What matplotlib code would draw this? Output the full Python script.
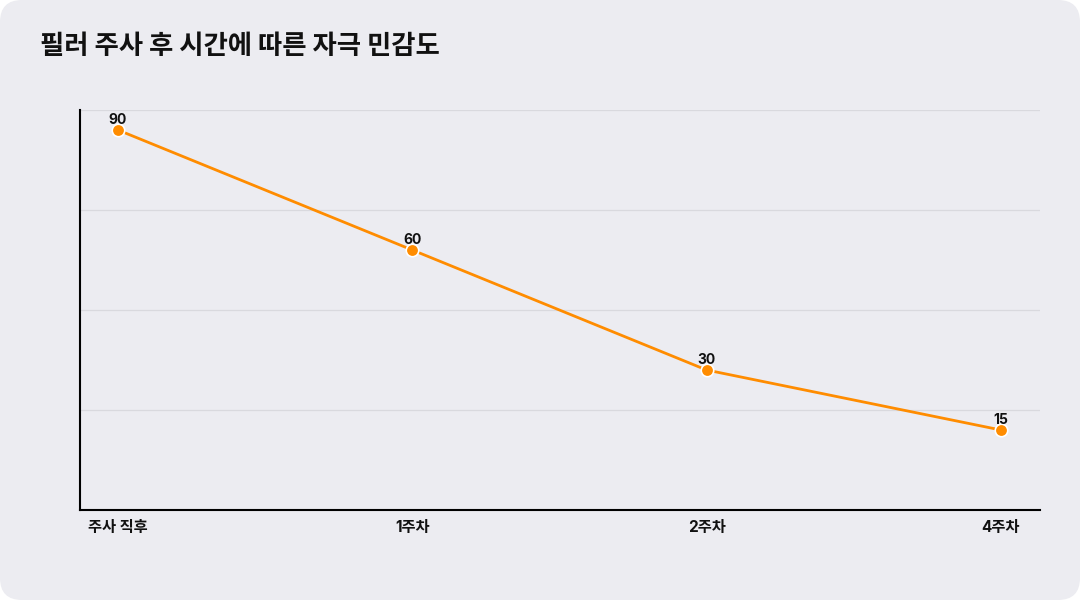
import matplotlib
matplotlib.use("Agg")
import matplotlib.pyplot as plt
from matplotlib.patches import FancyBboxPatch

plt.rcParams['font.family'] = ['Noto Sans CJK KR', 'DejaVu Sans']
mixed = ['Inter', 'Noto Sans CJK KR', 'DejaVu Sans']

categories = ["주사 직후", "1주차", "2주차", "4주차"]
values = [90, 60, 30, 15]
title = "필러 주사 후 시간에 따른 자극 민감도"

W, H, DPI = 1080, 600, 100
fig = plt.figure(figsize=(W / DPI, H / DPI), dpi=DPI)
fig.patch.set_facecolor("white")
bg = FancyBboxPatch((0, 0), W, H, boxstyle="round,pad=0,rounding_size=22",
                    transform=None, facecolor="#ececf1", edgecolor="none", zorder=-10)
fig.patches.append(bg)

ax = fig.add_axes([80 / W, (H - 510) / H, 960 / W, 400 / H])
ax.set_facecolor("none")

x = list(range(len(categories)))
ax.plot(x, values, color="#ff8c00", linewidth=2.0, zorder=3,
        marker="o", markersize=9, markerfacecolor="#ff8c00",
        markeredgecolor="white", markeredgewidth=1.2)
for xi, v in zip(x, values):
    ax.annotate(str(v), (xi, v), xytext=(0, 2.5), textcoords="offset points",
                ha="center", va="bottom", fontsize=10, fontweight="bold",
                color="#111111", zorder=4, family=mixed)

ax.set_xlim(-0.129, 3.133)
ax.set_ylim(-5, 95)
ax.set_yticks([20, 45, 70, 95])
ax.set_yticklabels([])
ax.tick_params(axis="y", length=0)
ax.yaxis.grid(True, color="#d9d9de", linewidth=0.9)
ax.set_axisbelow(True)
ax.set_xticks(x)
ax.set_xticklabels(categories, fontsize=11, fontweight="bold", color="#111111",
                   family=mixed)
ax.tick_params(axis="x", length=0, pad=7)
for s in ["top", "right"]:
    ax.spines[s].set_visible(False)
for s in ["left", "bottom"]:
    ax.spines[s].set_color("black")
    ax.spines[s].set_linewidth(1.5)

fig.text(40 / W, 1 - 47 / H, title, fontsize=19, fontweight="bold",
         color="#111111", ha="left", va="center")

fig.savefig("out.png", dpi=DPI)
